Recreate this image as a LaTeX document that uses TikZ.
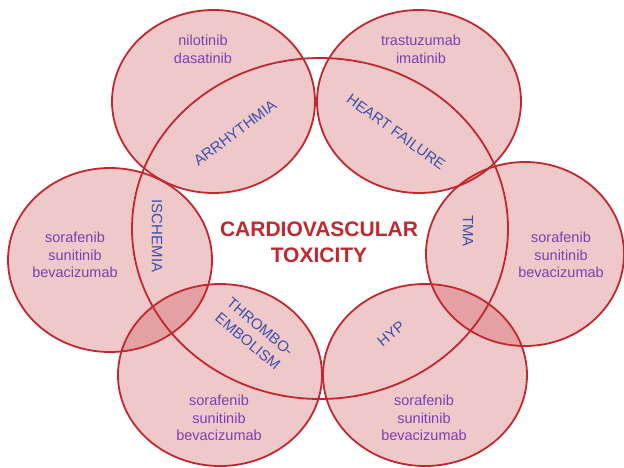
\documentclass[tikz,border=0pt]{standalone}
\usepackage{fontspec}
\setmainfont{Liberation Sans}
\usetikzlibrary{positioning}
\definecolor{cred}{HTML}{C1272D}
\definecolor{cdrug}{HTML}{7D3FAF}
\definecolor{clab}{HTML}{3D4FAA}
\tikzset{
  zone/.style={fill=cred, fill opacity=0.25},
  ring/.style={draw=cred, line width=1.8pt},
  drug/.style={text=cdrug, align=center, inner sep=0pt,
               font=\fontsize{14.5}{17.5}\selectfont},
  lab/.style={text=clab, align=center, inner sep=0pt,
              font=\fontsize{15}{19}\selectfont},
  title/.style={text=cred, align=center, inner sep=0pt,
                font=\fontsize{21}{26}\selectfont\bfseries}
}
\begin{document}
\begin{tikzpicture}[x=1pt, y=-1pt]
\useasboundingbox (0,0) rectangle (624,467);
% small ellipses: fills first
\fill[zone] (213.5,101.5) ellipse [x radius=101.5pt, y radius=91.5pt];
\fill[zone] (419,101.5) ellipse [x radius=102pt, y radius=91.5pt];
\fill[zone] (110,260) ellipse [x radius=102pt, y radius=92pt];
\fill[zone] (525,254) ellipse [x radius=99pt, y radius=92pt];
\fill[zone] (220,375) ellipse [x radius=102pt, y radius=91pt];
\fill[zone] (425,375) ellipse [x radius=102pt, y radius=91pt];
% outlines
\draw[ring] (213.5,101.5) ellipse [x radius=101.5pt, y radius=91.5pt];
\draw[ring] (419,101.5) ellipse [x radius=102pt, y radius=91.5pt];
\draw[ring] (110,260) ellipse [x radius=102pt, y radius=92pt];
\draw[ring] (525,254) ellipse [x radius=99pt, y radius=92pt];
\draw[ring] (220,375) ellipse [x radius=102pt, y radius=91pt];
\draw[ring] (425,375) ellipse [x radius=102pt, y radius=91pt];
% central ellipse
\draw[ring] (320,228.5) ellipse [x radius=188pt, y radius=170.5pt];

\node[title] (tox) at (319,242) {CARDIOVASCULAR\\TOXICITY};

\node[lab, rotate=37] (arr) at (235,133) {ARRHYTHMIA};
\node[lab, rotate=-36] (hf) at (396,132) {HEART FAILURE};
\node[lab, rotate=-90] (isch) at (157,236) {ISCHEMIA};
\node[lab, rotate=-90] (tma) at (468,231) {TMA};
\node[lab, rotate=-40] (te) at (254,334) {THROMBO-\\EMBOLISM};
\node[lab, rotate=40] (hyp) at (391,334) {HYP};

\node[drug] (darr) at (203,49.5) {nilotinib\\dasatinib};
\node[drug] (dhf) at (421,49.5) {trastuzumab\\imatinib};
\node[drug] (disch) at (75,255) {sorafenib\\sunitinib\\bevacizumab};
\node[drug] (dtma) at (561,255) {sorafenib\\sunitinib\\bevacizumab};
\node[drug] (dte) at (219,418) {sorafenib\\sunitinib\\bevacizumab};
\node[drug] (dhyp) at (424,418) {sorafenib\\sunitinib\\bevacizumab};
\end{tikzpicture}
\end{document}
